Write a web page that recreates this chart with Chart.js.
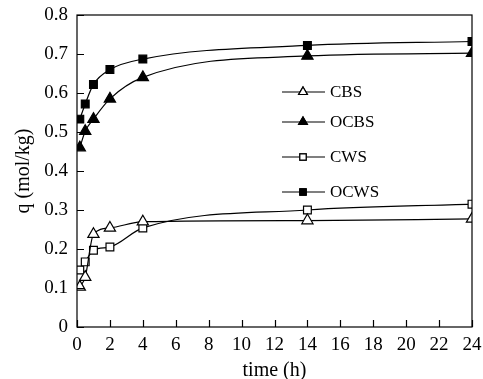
<!DOCTYPE html>
<html>
<head>
<meta charset="utf-8">
<script src="https://cdn.jsdelivr.net/npm/chart.js@4.4.0/dist/chart.umd.min.js"></script>
<style>
  body { margin: 0; background: #fff; }
  #wrap { width: 483px; height: 379px; }
</style>
</head>
<body>
<div id="wrap"><canvas id="myChart" width="483" height="379"></canvas></div>
<script>
// sampling times (h)
const times = [0.17, 0.5, 1, 2, 4, 14, 24];

// adsorbed amount q (mol/kg)
const cbs  = [0.103, 0.128, 0.238, 0.254, 0.270, 0.273, 0.277];
const ocbs = [0.460, 0.502, 0.533, 0.585, 0.640, 0.695, 0.702];
const cws  = [0.146, 0.167, 0.197, 0.205, 0.254, 0.300, 0.315];
const ocws = [0.533, 0.572, 0.622, 0.660, 0.687, 0.722, 0.732];

const seriesNames = ['CBS', 'OCBS', 'CWS', 'OCWS'];
const xTicks = [0, 2, 4, 6, 8, 10, 12, 14, 16, 18, 20, 22, 24];
const yTicks = [0, 0.1, 0.2, 0.3, 0.4, 0.5, 0.6, 0.7, 0.8];

const serif = "'Liberation Serif', 'DejaVu Serif', serif";

function pts(ys) {
  return times.map((t, i) => ({ x: t, y: ys[i] }));
}

function makeSet(label, ys, style, filled) {
  return {
    label: label,
    data: pts(ys),
    borderColor: '#000',
    borderWidth: 1.2,
    pointStyle: style,
    pointRadius: style === 'triangle' ? 6.5 : 5.5,
    pointBorderWidth: 1.2,
    pointBorderColor: '#000',
    pointBackgroundColor: filled ? '#000' : '#fff',
    cubicInterpolationMode: 'monotone',
    fill: false
  };
}

// frame, inward ticks and legend box
const framePlugin = {
  id: 'frame',
  afterDraw(chart) {
    const ctx = chart.ctx;
    const a = chart.chartArea;
    const xs = chart.scales.x, ys = chart.scales.y;
    ctx.save();
    ctx.strokeStyle = '#000';
    ctx.lineWidth = 1.2;
    ctx.strokeRect(a.left, a.top, a.right - a.left, a.bottom - a.top);
    ctx.beginPath();
    xTicks.forEach(v => {
      const px = Math.round(xs.getPixelForValue(v)) + 0.5;
      ctx.moveTo(px, a.bottom);
      ctx.lineTo(px, a.bottom - 7);
    });
    yTicks.forEach(v => {
      const py = Math.round(ys.getPixelForValue(v)) + 0.5;
      ctx.moveTo(a.left, py);
      ctx.lineTo(a.left + 7, py);
    });
    ctx.stroke();

    // legend
    const legendY = [92, 122, 157, 192];
    const styles = [['triangle', false], ['triangle', true], ['rect', false], ['rect', true]];
    ctx.font = '17px ' + serif;
    ctx.textBaseline = 'middle';
    ctx.fillStyle = '#000';
    seriesNames.forEach((name, i) => {
      const y = legendY[i];
      ctx.beginPath();
      ctx.moveTo(282, y);
      ctx.lineTo(325, y);
      ctx.stroke();
      Chart.helpers.drawPoint(ctx, {
        pointStyle: styles[i][0],
        radius: styles[i][0] === 'triangle' ? 5 : 4.5,
        rotation: 0,
        borderWidth: 1.2
      }, 303, y);
      ctx.fillStyle = styles[i][1] ? '#000' : '#fff';
      ctx.fill();
      ctx.stroke();
      ctx.fillStyle = '#000';
      ctx.fillText(name, 330, y + 1);
    });
    ctx.restore();
  }
};

const ctx = document.getElementById('myChart').getContext('2d');
const myChart = new Chart(ctx, {
  type: 'line',
  data: {
    datasets: [
      makeSet('CBS', cbs, 'triangle', false),
      makeSet('OCBS', ocbs, 'triangle', true),
      makeSet('CWS', cws, 'rect', false),
      makeSet('OCWS', ocws, 'rect', true)
    ]
  },
  options: {
    responsive: false,
    animation: false,
    layout: { padding: { left: 0, right: 11, top: 15, bottom: 0 } },
    plugins: { legend: { display: false }, tooltip: { enabled: false } },
    scales: {
      x: {
        type: 'linear',
        min: 0, max: 24,
        afterBuildTicks(s) { s.ticks = xTicks.map(v => ({ value: v })); },
        afterFit(s) { s.height = 52; s.paddingLeft = 0; s.paddingRight = 0; },
        grid: { display: false, drawTicks: false },
        border: { display: false },
        ticks: { color: '#000', font: { family: serif, size: 19 }, padding: 7, maxRotation: 0, autoSkip: false },
        title: { display: true, text: 'time (h)', color: '#000', font: { family: serif, size: 20, lineHeight: 1 }, padding: { top: 0, bottom: -2 } }
      },
      y: {
        min: 0, max: 0.8,
        afterBuildTicks(s) { s.ticks = yTicks.map(v => ({ value: v })); },
        afterFit(s) { s.width = 77; s.paddingTop = 0; s.paddingBottom = 0; },
        grid: { display: false, drawTicks: false },
        border: { display: false },
        ticks: {
          color: '#000', font: { family: serif, size: 19 }, padding: 9,
          callback: v => (v === 0 ? '0' : v.toFixed(1))
        },
        title: { display: true, text: 'q (mol/kg)', color: '#000', font: { family: serif, size: 20 }, padding: { top: 12, bottom: 0 } }
      }
    }
  },
  plugins: [framePlugin]
});
</script>
</body>
</html>
